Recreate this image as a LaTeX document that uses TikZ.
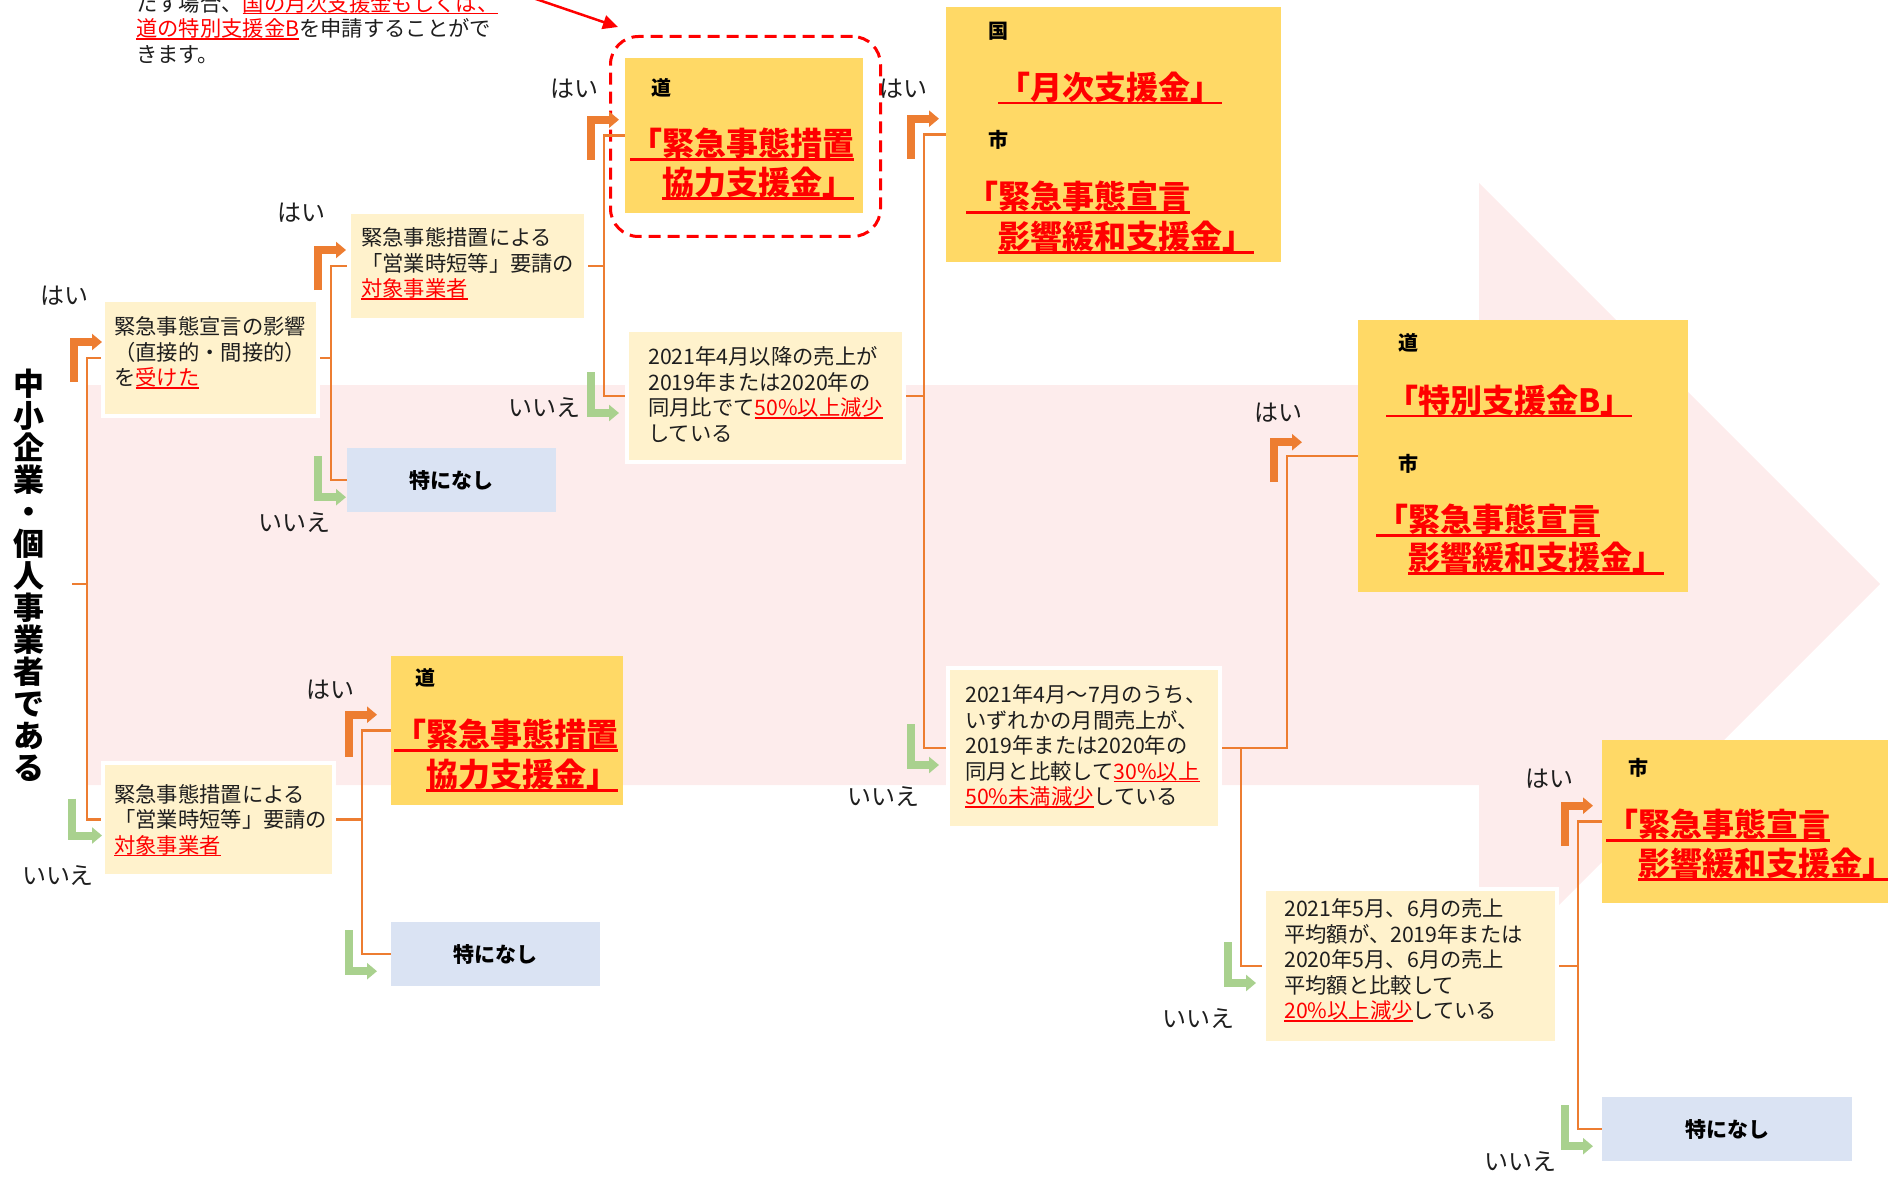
\documentclass[tikz,border=0pt]{standalone}
\usepackage{fontspec}
\setmainfont{Noto Sans CJK JP}
\usetikzlibrary{arrows.meta,calc}
\definecolor{pinkbg}{RGB}{253,236,236}
\definecolor{lightyel}{RGB}{255,242,204}
\definecolor{gold}{RGB}{255,217,102}
\definecolor{bluebox}{RGB}{218,227,243}
\definecolor{orng}{RGB}{237,125,49}
\definecolor{grn}{RGB}{169,209,142}
\definecolor{redt}{RGB}{255,0,0}
\definecolor{txt}{RGB}{30,30,30}
\newsavebox\ulbox
\newcommand\ulr[1]{\sbox\ulbox{#1}\rlap{\rule[-0.15em]{\wd\ulbox}{0.07em}}\usebox\ulbox}
\newcommand\rd[1]{{\color{redt}\ulr{#1}}}
\tikzset{
  ybox/.style={fill=lightyel, draw=white, line width=4pt, inner sep=0pt, anchor=north west},
  gbox/.style={fill=gold, inner sep=0pt, anchor=north west},
  bbox/.style={fill=bluebox, inner sep=0pt, anchor=north west, font=\bfseries\fontsize{21}{25}\selectfont},
  body/.style={inner sep=0pt, anchor=north west, align=left, text=txt, font=\fontsize{21.3}{25.5}\selectfont},
  lab/.style={inner sep=0pt, text=txt, font=\fontsize{24}{28}\selectfont},
  tag/.style={inner sep=0pt, anchor=west, font=\bfseries\fontsize{20}{24}\selectfont},
  big/.style={inner sep=0pt, anchor=north west, align=left, text=redt, font=\bfseries\fontsize{32}{39}\selectfont},
  conn/.style={draw=orng, line width=2.5pt},
  yesarr/.style={draw=orng, line width=8pt, line join=miter, -{Triangle[length=10pt,width=16pt]}},
  noarr/.style={draw=grn, line width=8pt, line join=miter, -{Triangle[length=10pt,width=16pt]}},
}
\begin{document}
\begin{tikzpicture}[x=1pt,y=-1pt]
\useasboundingbox (0,0) rectangle (1888,1177);
% big pink arrow
\fill[pinkbg] (88,385) -- (1479,385) -- (1479,183) -- (1880,584) -- (1479,985) -- (1479,785) -- (88,785) -- cycle;

% title
\node[inner sep=0pt, align=center, font=\bfseries\fontsize{31}{32}\selectfont] (title) at (29,575)
  {中\\小\\企\\業\\・\\個\\人\\事\\業\\者\\で\\あ\\る};

% top note
\node[body] (note) at (136,-7) {たす場合、\rd{国の月次支援金もしくは、}\\\rd{道の特別支援金B}を申請することがで\\きます。};

% light yellow condition boxes
\node[ybox, minimum width=215pt, minimum height=116pt] (A) at (101,298) {};
\node[ybox, minimum width=237pt, minimum height=108pt] (B) at (347,210) {};
\node[ybox, minimum width=277pt, minimum height=132pt] (D) at (625,328) {};
\node[ybox, minimum width=272pt, minimum height=160pt] (F) at (946,666) {};
\node[ybox, minimum width=293pt, minimum height=154pt] (G) at (1262,887) {};
\node[ybox, minimum width=231pt, minimum height=113pt] (H) at (101,761) {};

\node[body] (Atx) at (114,316.5) {緊急事態宣言の影響\\（直接的・間接的）\\を\rd{受けた}};
\node[body] (Btx) at (361,227.5) {緊急事態措置による\\「営業時短等」要請の\\\rd{対象事業者}};
\node[body] (Dtx) at (648,346.5) {2021年4月以降の売上が\\2019年または2020年の\\同月比でて\rd{50\%以上減少}\\している};
\node[body] (Ftx) at (965,684.5) {2021年4月～7月のうち、\\いずれかの月間売上が、\\2019年または2020年の\\同月と比較して\rd{30\%以上}\\\rd{50\%未満減少}している};
\node[body] (Gtx) at (1284,898.5) {2021年5月、6月の売上\\平均額が、2019年または\\2020年5月、6月の売上\\平均額と比較して\\\rd{20\%以上減少}している};
\node[body] (Htx) at (114,784) {緊急事態措置による\\「営業時短等」要請の\\\rd{対象事業者}};

% gold result boxes
\node[gbox, minimum width=238pt, minimum height=155pt] (C) at (625,58) {};
\node[gbox, minimum width=335pt, minimum height=255pt] (K) at (946,7) {};
\node[gbox, minimum width=330pt, minimum height=272pt] (M) at (1358,320) {};
\node[gbox, minimum width=290pt, minimum height=163pt] (S) at (1602,740) {};
\node[gbox, minimum width=232pt, minimum height=149pt] (L) at (391,656) {};

\node[tag] (Ct) at (651,88) {道};
\node[big] (Cr) at (630,128) {\ulr{「緊急事態措置}\\\hspace*{1em}\ulr{協力支援金」}};
\node[tag] (Kt1) at (988,31) {国};
\node[big] (Kr1) at (998,72) {\ulr{「月次支援金」}};
\node[tag] (Kt2) at (988,140) {市};
\node[big, font=\bfseries\fontsize{32}{40}\selectfont] (Kr2) at (966,181) {\ulr{「緊急事態宣言}\\\hspace*{1em}\ulr{影響緩和支援金」}};
\node[tag] (Mt1) at (1398,343) {道};
\node[big] (Mr1) at (1386,385) {\ulr{「特別支援金B」}};
\node[tag] (Mt2) at (1398,464) {市};
\node[big, font=\bfseries\fontsize{32}{38}\selectfont] (Mr2) at (1376,504) {\ulr{「緊急事態宣言}\\\hspace*{1em}\ulr{影響緩和支援金」}};
\node[tag] (St) at (1628,768) {市};
\node[big] (Sr) at (1606,809) {\ulr{「緊急事態宣言}\\\hspace*{1em}\ulr{影響緩和支援金」}};
\node[tag] (Lt) at (415,678) {道};
\node[big, font=\bfseries\fontsize{32}{40}\selectfont] (Lr) at (394,719) {\ulr{「緊急事態措置}\\\hspace*{1em}\ulr{協力支援金」}};

% blue boxes
\node[bbox, minimum width=209pt, minimum height=64pt] (E) at (347,448) {特になし};
\node[bbox, minimum width=209pt, minimum height=64pt] (N2) at (391,922) {特になし};
\node[bbox, minimum width=250pt, minimum height=64pt] (N3) at (1602,1097) {特になし};

% highlight frame and red arrow
\node[draw=redt, line width=3pt, dash pattern=on 12pt off 7pt, rounded corners=28pt, inner sep=0pt,
      minimum width=270pt, minimum height=200pt, anchor=north west] (hl) at (609,35) {};
\coordinate (rs) at (530,-3);
\coordinate (re) at (618,27);
\draw[redt, line width=2.5pt, -{Triangle[length=15pt,width=14pt]}] (rs) -- (re);

% trunks
\coordinate (ts) at (72,584);
\coordinate (t0) at (87,0);
\coordinate (t1) at (331,0);
\coordinate (t2) at (604,0);
\coordinate (t3) at (924,0);
\coordinate (t4u) at (1287,0);
\coordinate (t4d) at (1241,0);
\coordinate (t5) at (1578,0);
\coordinate (t6) at (362,0);

\draw[conn] (ts) -- (ts -| t0) |- (A.west);
\draw[conn] (ts -| t0) |- (H.west);
\draw[conn] (A.east) -- (A.east -| t1) |- (B.west);
\draw[conn] (A.east -| t1) |- (E.west);
\draw[conn] (B.east) -- (B.east -| t2) |- (C.west);
\draw[conn] (B.east -| t2) |- (D.west);
\draw[conn] (D.east) -- (D.east -| t3) |- (K.west);
\draw[conn] (D.east -| t3) |- (F.west);
\draw[conn] (F.east) -- (F.east -| t4u) |- (M.west);
\draw[conn] (F.east -| t4d) |- (G.west);
\draw[conn] (G.east) -- (G.east -| t5) |- (S.west);
\draw[conn] (G.east -| t5) |- (N3.west);
\draw[conn] (H.east) -- (H.east -| t6) |- (L.west);
\draw[conn] (H.east -| t6) |- (N2.west);

% yes arrows
\draw[yesarr] ($(A.west -| t0)+(-13,24)$) -- ++(0,-40) -- ++(28,0);
\draw[yesarr] ($(B.west -| t1)+(-13,24)$) -- ++(0,-40) -- ++(28,0);
\draw[yesarr] ($(C.west -| t2)+(-13,24)$) -- ++(0,-40) -- ++(28,0);
\draw[yesarr] ($(K.west -| t3)+(-13,24)$) -- ++(0,-40) -- ++(28,0);
\draw[yesarr] ($(M.west -| t4u)+(-13,26)$) -- ++(0,-40) -- ++(28,0);
\draw[yesarr] ($(S.west -| t5)+(-13,24)$) -- ++(0,-40) -- ++(28,0);
\draw[yesarr] ($(L.west -| t6)+(-13,26)$) -- ++(0,-42) -- ++(28,0);
% no arrows
\draw[noarr] ($(E.west -| t1)+(-13,-24)$) -- ++(0,41) -- ++(28,0);
\draw[noarr] ($(D.west -| t2)+(-13,-24)$) -- ++(0,41) -- ++(28,0);
\draw[noarr] ($(H.west -| t0)+(-15,-21)$) -- ++(0,37) -- ++(30,0);
\draw[noarr] ($(F.west -| t3)+(-13,-24)$) -- ++(0,41) -- ++(28,0);
\draw[noarr] ($(G.west -| t4d)+(-13,-24)$) -- ++(0,41) -- ++(28,0);
\draw[noarr] ($(N2.west -| t6)+(-13,-24)$) -- ++(0,41) -- ++(28,0);
\draw[noarr] ($(N3.west -| t5)+(-13,-24)$) -- ++(0,41) -- ++(28,0);

% yes / no labels
\node[lab] (y1) at (64,296) {はい};
\node[lab] (y2) at (301,213) {はい};
\node[lab] (y3) at (574,89) {はい};
\node[lab] (y4) at (903,89) {はい};
\node[lab] (y5) at (1278,413) {はい};
\node[lab] (y6) at (1549,779) {はい};
\node[lab] (y7) at (330,690) {はい};
\node[lab] (n1) at (294,523) {いいえ};
\node[lab] (n2) at (544,408) {いいえ};
\node[lab] (n3) at (58,876) {いいえ};
\node[lab] (n4) at (883,797) {いいえ};
\node[lab] (n5) at (1198,1019) {いいえ};
\node[lab] (n6) at (1520,1162) {いいえ};
\end{tikzpicture}
\end{document}
